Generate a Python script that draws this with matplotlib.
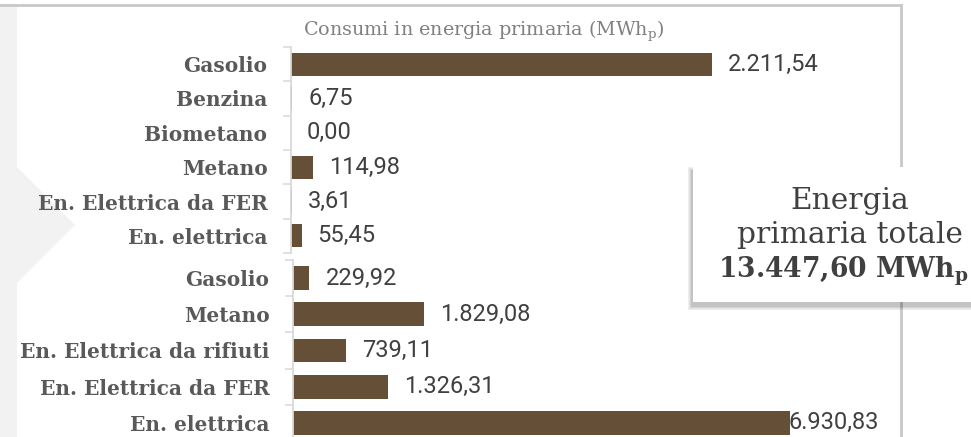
import matplotlib
matplotlib.use("Agg")
import matplotlib.pyplot as plt
from matplotlib.patches import Rectangle, Polygon
from matplotlib.lines import Line2D

# ---- data -------------------------------------------------------------
title_text = "Consumi in energia primaria (MWh$_\\mathregular{p}$)"

transport_labels = ["Gasolio", "Benzina", "Biometano", "Metano",
                    "En. Elettrica da FER", "En. elettrica"]
transport_values = [2211.54, 6.75, 0.00, 114.98, 3.61, 55.45]

building_labels = ["Gasolio", "Metano", "En. Elettrica da rifiuti",
                   "En. Elettrica da FER", "En. elettrica"]
building_values = [229.92, 1829.08, 739.11, 1326.31, 6930.83]

total_lines = ["Energia", "primaria totale"]
total_value = 13447.60
total_unit = "MWh$_\\mathregular{p}$"

# ---- style ------------------------------------------------------------
W, H, DPI = 971, 437, 100
BAR = "#654F36"
AXIS = "#d9d9d9"
CAT = "#595959"
VAL = "#404040"
FRAME = "#c8c8c8"
SERIF = ["DejaVu Serif"]
SANS = ["Roboto", "DejaVu Sans"]


def it_num(v):
    s = f"{v:,.2f}"
    return s.replace(",", "#").replace(".", ",").replace("#", ".")


def px_rect(x0, y0, x1, y1):
    return [x0 / W, 1 - y1 / H, (x1 - x0) / W, (y1 - y0) / H]


fig = plt.figure(figsize=(W / DPI, H / DPI), dpi=DPI)
fig.patch.set_facecolor("white")


def fx(x):
    return x / W


def fy(y):
    return 1 - y / H


# side strip with chevron
fig.add_artist(Rectangle((0, 0), fx(17), fy(7), transform=fig.transFigure,
                         facecolor="#f2f2f2", edgecolor="none", zorder=0))
fig.add_artist(Polygon([(fx(17), fy(167)), (fx(75), fy(225)), (fx(17), fy(283))],
                       closed=True, transform=fig.transFigure,
                       facecolor="#f2f2f2", edgecolor="none", zorder=0))
# frame lines (top and right)
fig.add_artist(Line2D([0, fx(901)], [fy(5), fy(5)], transform=fig.transFigure,
                      color=FRAME, lw=2.0, zorder=1))
fig.add_artist(Line2D([fx(901), fx(901)], [fy(5), 0], transform=fig.transFigure,
                      color=FRAME, lw=2.0, zorder=1))


def draw_group(rect, labels, values, xmax, bar_h):
    ax = fig.add_axes(px_rect(*rect))
    ax.set_facecolor("none")
    n = len(labels)
    pos = list(range(n))
    ax.barh(pos, values, height=bar_h, color=BAR, edgecolor="none", zorder=2)
    ax.set_xlim(0, xmax)
    ax.set_ylim(n - 0.5, -0.5)
    for s in ("top", "right", "bottom"):
        ax.spines[s].set_visible(False)
    ax.spines["left"].set_color(AXIS)
    ax.spines["left"].set_linewidth(1.3)
    ax.set_xticks([])
    ax.set_yticks(pos)
    ax.set_yticklabels(labels, fontsize=14.5, fontweight="bold", color=CAT,
                       family=SERIF)
    ax.tick_params(axis="y", which="major", length=0, pad=17)
    ax.set_yticks([p - 0.5 for p in pos] + [n - 0.5], minor=True)
    ax.tick_params(axis="y", which="minor", length=6, width=1.1, color=AXIS)
    texts = []
    for p, v in zip(pos, values):
        t = ax.annotate(it_num(v), xy=(v, p), xytext=(11.5, 0),
                        textcoords="offset points", ha="left", va="center",
                        fontsize=17, color=VAL, family=SANS, zorder=1,
                        annotation_clip=False)
        texts.append(t)
    return ax, texts


ax_top, top_texts = draw_group((291, 47, 881, 253), transport_labels,
                               transport_values, 3100, 0.67)
ax_bot, bot_texts = draw_group((293, 260, 881, 441), building_labels,
                               building_values, 8200, 0.66)

fig.text(fx(303), fy(31), title_text, ha="left", va="center", fontsize=13.8,
         color="#808080", family=SERIF)

# keep value labels inside the plot area (shift left when they overflow)
fig.canvas.draw()
renderer = fig.canvas.get_renderer()
for ax, texts in ((ax_top, top_texts), (ax_bot, bot_texts)):
    right = ax.get_window_extent(renderer).x1 - 2
    for t in texts:
        bb = t.get_window_extent(renderer)
        if bb.x1 > right:
            shift = (bb.x1 - right) * 72 / DPI
            ox, oy = t.xyann
            t.xyann = (ox - shift, oy)

# total box with soft shadow
bx0, by0, bx1, by1 = 693, 167, 980, 302
for k in range(7, 0, -1):
    fig.add_artist(Rectangle((fx(bx0 - 1 - k * 0.6), fy(by1 + 4 + k * 0.6)),
                             fx(bx1 - bx0 + k * 1.2), (by1 - by0 + k * 1.2) / H,
                             transform=fig.transFigure, facecolor="black",
                             alpha=0.035, edgecolor="none", zorder=5))
fig.add_artist(Rectangle((fx(bx0), fy(by1)), fx(bx1 - bx0), (by1 - by0) / H,
                         transform=fig.transFigure, facecolor="white",
                         edgecolor="none", zorder=6))
cx = fx(850)
fig.text(cx, fy(209), total_lines[0], ha="center", va="baseline", fontsize=21.3,
         color=VAL, family=SERIF, zorder=7)
fig.text(cx, fy(243), total_lines[1], ha="center", va="baseline", fontsize=21.3,
         color=VAL, family=SERIF, zorder=7)
fig.text(fx(969), fy(277), f"{it_num(total_value)} {total_unit}", ha="right",
         va="baseline", fontsize=19.2, fontweight="bold", color=VAL,
         family=SERIF, zorder=7)

fig.savefig("out.png", dpi=DPI, facecolor="white")
